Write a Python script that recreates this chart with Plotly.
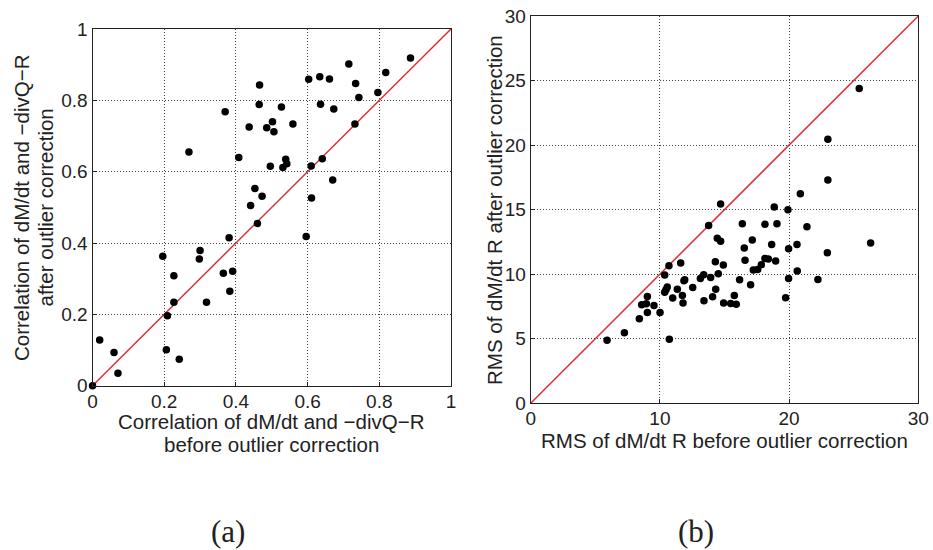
import plotly.graph_objects as go

# Panel (a): correlation before / after outlier correction
corr_before = [0.887, 0.715, 0.818, 0.734, 0.796, 0.743, 0.603, 0.634, 0.661, 0.466,
               0.465, 0.527, 0.636, 0.673, 0.370, 0.437, 0.486, 0.502, 0.506, 0.559,
               0.732, 0.269, 0.408, 0.496, 0.539, 0.542, 0.531, 0.610, 0.641, 0.670,
               0.453, 0.473, 0.441, 0.611, 0.460, 0.596, 0.381, 0.196, 0.300, 0.298,
               0.227, 0.365, 0.391, 0.383, 0.227, 0.318, 0.209, 0.206, 0.242, 0.020,
               0.060, 0.071, 0.000]
corr_after = [0.919, 0.902, 0.878, 0.847, 0.822, 0.808, 0.859, 0.866, 0.860, 0.843,
              0.788, 0.781, 0.789, 0.776, 0.768, 0.725, 0.723, 0.740, 0.712, 0.734,
              0.734, 0.655, 0.640, 0.615, 0.635, 0.622, 0.612, 0.616, 0.636, 0.577,
              0.553, 0.531, 0.505, 0.526, 0.455, 0.418, 0.415, 0.363, 0.379, 0.355,
              0.308, 0.315, 0.321, 0.265, 0.234, 0.234, 0.196, 0.101, 0.074, 0.128,
              0.093, 0.035, 0.000]

# Panel (b): RMS before / after outlier correction
rms_before = [25.43, 23.00, 23.00, 20.87, 14.70, 18.85, 19.91, 13.77, 16.38, 18.13,
              19.06, 21.38, 14.44, 14.70, 17.15, 16.53, 18.65, 20.61, 19.96, 26.31,
              22.96, 16.59, 18.13, 18.39, 18.96, 14.29, 14.91, 11.61, 10.70, 17.85,
              17.23, 17.57, 20.63, 10.37, 13.39, 14.52, 13.13, 13.93, 11.92, 11.86,
              16.17, 19.96, 22.23, 10.57, 10.47, 10.37, 11.35, 12.54, 14.32, 17.02,
              11.74, 10.99, 11.79, 14.08, 13.41, 14.93, 15.48, 15.91, 15.76, 19.73,
              9.03, 8.59, 8.95, 9.54, 9.03, 10.01, 8.41, 7.25, 5.91, 10.73]
rms_after = [24.38, 20.46, 17.29, 16.24, 15.44, 15.21, 15.00, 13.78, 13.91, 13.86,
             13.91, 13.68, 12.78, 12.55, 12.65, 12.03, 12.31, 12.31, 11.97, 12.41,
             11.66, 11.09, 11.22, 11.17, 11.02, 10.97, 10.71, 10.86, 10.66, 10.74,
             10.32, 10.37, 10.24, 9.93, 9.96, 10.03, 9.67, 9.75, 9.57, 9.49,
             9.57, 9.67, 9.59, 9.00, 8.79, 8.61, 8.84, 8.97, 8.84, 9.18,
             8.35, 8.15, 7.76, 8.25, 7.94, 7.76, 7.73, 7.68, 8.35, 8.17,
             8.28, 7.63, 7.71, 7.58, 7.04, 7.04, 6.54, 5.46, 4.89, 4.97]

range_a = [0, 1]
range_b = [0, 30]
ticks_a = [0, 0.2, 0.4, 0.6, 0.8, 1]
ticklabels_a = ["0", "0.2", "0.4", "0.6", "0.8", "1"]
ticks_b = [0, 10, 20, 30]
ticks_b_y = [0, 5, 10, 15, 20, 25, 30]

W, H = 933, 550
SANS = "Liberation Sans, Arial, sans-serif"
SERIF = "Liberation Serif, Times New Roman, serif"
RED = "#dc2f37"
INK = "#222222"

fig = go.Figure()

fig.add_trace(go.Scatter(x=range_a, y=range_a, mode="lines", line=dict(color=RED, width=1.5),
                         xaxis="x", yaxis="y", showlegend=False, hoverinfo="skip"))
fig.add_trace(go.Scatter(x=corr_before, y=corr_after, mode="markers",
                         marker=dict(color="black", size=7.5), xaxis="x", yaxis="y",
                         showlegend=False, cliponaxis=False))
fig.add_trace(go.Scatter(x=range_b, y=range_b, mode="lines", line=dict(color=RED, width=1.5),
                         xaxis="x2", yaxis="y2", showlegend=False, hoverinfo="skip"))
fig.add_trace(go.Scatter(x=rms_before, y=rms_after, mode="markers",
                         marker=dict(color="black", size=7.5), xaxis="x2", yaxis="y2",
                         showlegend=False))

def px_x(p):
    return p / W

def px_y(p):
    return 1 - p / H

axis_common = dict(showgrid=True, gridcolor="#444444", griddash="1px,2px", gridwidth=1,
                   showline=True, linecolor=INK, linewidth=1.2, mirror=True,
                   ticks="inside", ticklen=4, tickcolor=INK, zeroline=False,
                   automargin=False,
                   tickfont=dict(family=SANS, size=19, color=INK))

fig.update_layout(
    width=W, height=H, margin=dict(l=0, r=0, t=0, b=0, pad=0), autosize=False,
    paper_bgcolor="white", plot_bgcolor="white",
    xaxis=dict(domain=[px_x(92.5), px_x(451)], range=range_a, tickvals=ticks_a,
               ticktext=ticklabels_a, anchor="y", ticklabelstandoff=-2, **axis_common),
    yaxis=dict(domain=[px_y(385.7), px_y(29)], range=range_a, tickvals=ticks_a,
               ticktext=ticklabels_a, anchor="x", ticklabelstandoff=0, **axis_common),
    xaxis2=dict(domain=[px_x(530.7), px_x(918.3)], range=range_b, tickvals=ticks_b,
                anchor="y2", ticklabelstandoff=-2, **axis_common),
    yaxis2=dict(domain=[px_y(403.3), px_y(16)], range=range_b, tickvals=ticks_b_y,
                anchor="x2", ticklabelstandoff=0, **axis_common),
)

ann = [
    dict(text="Correlation of dM/dt and −divQ−R",
         x=px_x(271.5), y=px_y(421.5), textangle=0, size=20.5, font=SANS),
    dict(text="before outlier correction",
         x=px_x(271.5), y=px_y(444), textangle=0, size=20.5, font=SANS),
    dict(text="Correlation of dM/dt and −divQ−R",
         x=px_x(21.5), y=px_y(207.5), textangle=-90, size=20.5, font=SANS),
    dict(text="after outlier correction",
         x=px_x(45), y=px_y(207.5), textangle=-90, size=20.5, font=SANS),
    dict(text="RMS of dM/dt R before outlier correction",
         x=px_x(724.5), y=px_y(440), textangle=0, size=20.5, font=SANS),
    dict(text="RMS of dM/dt R after outlier correction",
         x=px_x(494), y=px_y(210), textangle=-90, size=20.5, font=SANS),
    dict(text="(a)", x=px_x(227.5), y=px_y(531), textangle=0, size=31, font=SERIF),
    dict(text="(b)", x=px_x(696), y=px_y(531), textangle=0, size=31, font=SERIF),
]
for a in ann:
    fig.add_annotation(text=a["text"], x=a["x"], y=a["y"], xref="paper", yref="paper",
                       xanchor="center", yanchor="middle", showarrow=False,
                       textangle=a["textangle"],
                       font=dict(family=a["font"], size=a["size"], color=INK))

fig.write_html("out.html")
